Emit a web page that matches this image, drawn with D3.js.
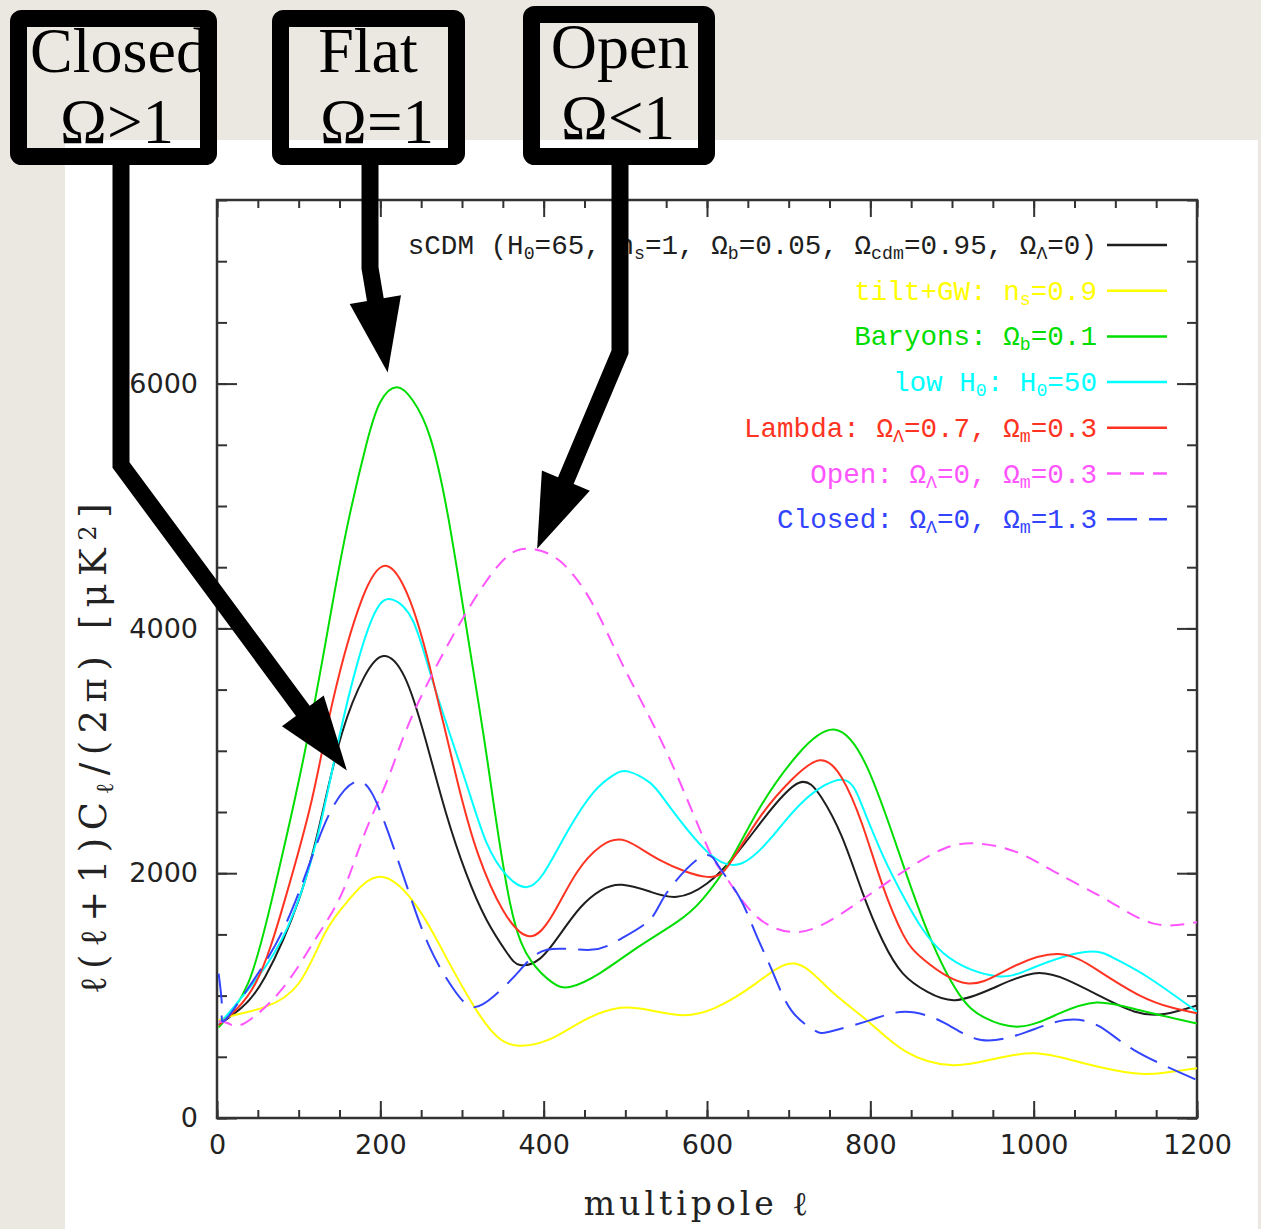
<!DOCTYPE html>
<html>
<head>
<meta charset="utf-8">
<script src="https://cdn.jsdelivr.net/npm/d3@7"></script>
<style>
  body { margin: 0; background: #ebe8e1; }
  svg { display: block; }
</style>
</head>
<body>
<svg id="chart" width="1261" height="1229"></svg>
<script>
// ---- data: [multipole l, l(l+1)Cl/2pi in uK^2] ----
const sCDM = [[2,760],[30,900],[59,1154],[100,1780],[128,2463],[153,3143],[180,3600],[204,3775],[230,3600],[255,3100],[280,2500],[305,2000],[330,1620],[355,1350],[371,1250],[395,1300],[420,1500],[445,1720],[470,1860],[496,1906],[530,1850],[563,1807],[600,1916],[635,2150],[670,2450],[712,2737],[740,2620],[765,2300],[790,1850],[815,1450],[840,1180],[870,1030],[904,963],[950,1060],[1000,1181],[1040,1130],[1080,1000],[1123,870],[1160,850],[1200,920]];
const tiltGW = [[2,800],[22,841],[59,908],[100,1099],[132,1508],[161,1780],[201,1970],[245,1725],[278,1345],[318,877],[347,643],[373,590],[410,650],[450,800],[494,900],[530,880],[570,840],[610,900],[660,1100],[707,1262],[750,1050],[796,797],[843,544],[899,432],[950,480],[1002,528],[1060,450],[1123,365],[1160,370],[1200,406]];
const baryons = [[2,740],[38,1099],[67,1780],[95,2596],[120,3412],[140,4150],[160,4850],[183,5507],[200,5850],[220,5970],[240,5860],[261,5561],[282,4950],[302,4147],[320,3400],[334,2786],[359,1750],[385,1280],[410,1110],[432,1070],[469,1184],[516,1398],[563,1600],[595,1790],[630,2120],[665,2539],[712,2976],[757,3172],[796,2867],[834,2188],[871,1508],[908,1018],[940,820],[983,747],[1030,850],[1077,943],[1130,880],[1200,772]];
const lowH0 = [[2,760],[50,1150],[87,1565],[121,2245],[148,3061],[173,3741],[195,4150],[215,4235],[240,4060],[265,3550],[304,2759],[330,2250],[355,1980],[378,1886],[400,2000],[430,2350],[461,2661],[485,2800],[504,2830],[530,2740],[551,2573],[600,2178],[642,2079],[680,2300],[720,2600],[766,2764],[790,2550],[815,2150],[843,1779],[890,1344],[955,1159],[1000,1230],[1063,1357],[1100,1300],[1140,1150],[1200,869]];
const lambda = [[2,760],[47,1099],[83,1780],[116,2596],[142,3412],[177,4229],[208,4510],[235,4250],[260,3700],[294,2760],[320,2150],[350,1700],[382,1485],[410,1650],[440,2000],[470,2220],[500,2266],[543,2105],[600,1970],[630,2100],[665,2460],[703,2759],[738,2922],[765,2780],[790,2400],[815,1900],[840,1500],[866,1290],[918,1100],[970,1220],[1030,1339],[1080,1200],[1130,1000],[1170,900],[1200,855]];
const open = [[2,790],[15,770],[34,776],[79,1048],[120,1456],[153,1837],[181,2327],[210,2784],[242,3330],[302,4094],[351,4561],[383,4650],[420,4550],[460,4200],[498,3684],[551,2982],[600,2222],[623,1970],[660,1650],[712,1520],[760,1650],[800,1830],[843,2024],[890,2200],[932,2242],[980,2170],[1030,1996],[1090,1780],[1147,1588],[1200,1600]];
const closed = [[2,1180],[6,900],[10,800],[42,1099],[79,1510],[112,2054],[140,2517],[169,2745],[190,2650],[210,2327],[234,1864],[260,1400],[290,1050],[314,906],[340,1000],[370,1200],[404,1374],[457,1374],[494,1462],[530,1620],[551,1842],[593,2134],[615,2050],[640,1800],[660,1500],[680,1200],[703,882],[731,718],[750,705],[800,800],[843,868],[890,780],[936,637],[990,700],[1039,800],[1080,750],[1123,555],[1200,310]];

const seriesData = [sCDM, tiltGW, baryons, lowH0, lambda, open, closed];
const legendLabels = [
  "sCDM (H_{0}=65, n_{s}=1, Ω_{b}=0.05, Ω_{cdm}=0.95, Ω_{Λ}=0)",
  "tilt+GW: n_{s}=0.9",
  "Baryons: Ω_{b}=0.1",
  "low H_{0}: H_{0}=50",
  "Lambda: Ω_{Λ}=0.7, Ω_{m}=0.3",
  "Open: Ω_{Λ}=0, Ω_{m}=0.3",
  "Closed: Ω_{Λ}=0, Ω_{m}=1.3"
];
const xMajorTicks = [0, 200, 400, 600, 800, 1000, 1200];
const yMajorTicks = [0, 2000, 4000, 6000];
const boxTitles = [["Closed", "Ω>1"], ["Flat", "Ω=1"], ["Open", "Ω<1"]];
// where each annotation arrow points, in data units
const arrowTips = [[159, 2840], [209, 6090], [392, 4650]];

// ---- styles ----
const colors = ["#1e1e1e", "#ffff00", "#00dd00", "#00ffff", "#ff3322", "#ff55ff", "#3344ff"];
const dashes = [null, null, null, null, null, "14,9", "30,12"];

var svg = d3.select("#chart");
const W = 1261, H = 1229;
const plot = { left: 217, right: 1197, top: 200, bottom: 1118 };

// background + white panel
svg.append("rect").attr("width", W).attr("height", H).attr("fill", "#ebe8e1");
svg.append("rect").attr("x", 65).attr("y", 140).attr("width", 1193).attr("height", H - 140).attr("fill", "#ffffff");

let x = d3.scaleLinear().domain([0, 1200]).range([plot.left, plot.right]);
let y = d3.scaleLinear().domain([0, 7500]).range([plot.bottom, plot.top]);

// ---- axes (ticks inward on all four sides) ----
function styleAxis(g) {
  g.select(".domain").remove();
  g.selectAll(".tick line").attr("stroke", "#333").attr("stroke-width", 2);
  g.selectAll(".tick text").attr("fill", "#222")
    .style("font-family", "'DejaVu Sans', sans-serif").style("font-size", "27px");
}
const minorX = d3.range(0, 1201, 50), minorY = d3.range(0, 7501, 500);

svg.append("g").attr("transform", `translate(0,${plot.bottom})`)
  .call(d3.axisBottom(x).tickValues(minorX).tickSize(-8).tickFormat("")).call(styleAxis);
svg.append("g").attr("transform", `translate(0,${plot.bottom})`)
  .call(d3.axisBottom(x).tickValues(xMajorTicks).tickSize(-17).tickPadding(17).tickFormat(d3.format("d"))).call(styleAxis);
svg.append("g").attr("transform", `translate(0,${plot.top})`)
  .call(d3.axisTop(x).tickValues(minorX).tickSize(-8).tickFormat("")).call(styleAxis);
svg.append("g").attr("transform", `translate(0,${plot.top})`)
  .call(d3.axisTop(x).tickValues(xMajorTicks).tickSize(-17).tickFormat("")).call(styleAxis);

svg.append("g").attr("transform", `translate(${plot.left},0)`)
  .call(d3.axisLeft(y).tickValues(minorY).tickSize(-10).tickFormat("")).call(styleAxis);
svg.append("g").attr("transform", `translate(${plot.left},0)`)
  .call(d3.axisLeft(y).tickValues(yMajorTicks).tickSize(-20).tickPadding(19).tickFormat(d3.format("d"))).call(styleAxis);
svg.append("g").attr("transform", `translate(${plot.right},0)`)
  .call(d3.axisRight(y).tickValues(minorY).tickSize(-10).tickFormat("")).call(styleAxis);
svg.append("g").attr("transform", `translate(${plot.right},0)`)
  .call(d3.axisRight(y).tickValues(yMajorTicks).tickSize(-20).tickFormat("")).call(styleAxis);

svg.append("rect")
  .attr("x", plot.left).attr("y", plot.top)
  .attr("width", plot.right - plot.left).attr("height", plot.bottom - plot.top)
  .attr("fill", "none").attr("stroke", "#333").attr("stroke-width", 2.5);

// ---- curves ----
svg.append("clipPath").attr("id", "plotClip").append("rect")
  .attr("x", plot.left).attr("y", plot.top)
  .attr("width", plot.right - plot.left).attr("height", plot.bottom - plot.top);

const line = d3.line()
  .x(d => x(d[0]))
  .y(d => y(d[1]))
  .curve(d3.curveNatural);

svg.append("g").attr("clip-path", "url(#plotClip)")
  .selectAll(".spectrum")
  .data(seriesData)
  .join("path")
  .attr("class", "spectrum")
  .attr("d", line)
  .attr("fill", "none")
  .attr("stroke", (d, i) => colors[i])
  .attr("stroke-width", 2)
  .attr("stroke-dasharray", (d, i) => dashes[i]);

// ---- rich text helper: _{sub} and ^{sup} ----
function richText(sel, str) {
  const parts = str.split(/(_\{[^}]*\}|\^\{[^}]*\})/);
  for (let p of parts) {
    if (!p) continue;
    if (p.startsWith("_{")) {
      sel.append("tspan").attr("baseline-shift", "-28%").style("font-size", "66%").text(p.slice(2, -1));
    } else if (p.startsWith("^{")) {
      sel.append("tspan").attr("baseline-shift", "40%").style("font-size", "66%").text(p.slice(2, -1));
    } else {
      sel.append("tspan").text(p);
    }
  }
}

// ---- legend ----
const legendTop = 245, legendStep = 45.7;
let legend = svg.append("g").attr("class", "legend");
legendLabels.forEach(function (label, i) {
  const ly = legendTop + i * legendStep;
  let t = legend.append("text")
    .attr("x", 1097).attr("y", ly + 9)
    .attr("text-anchor", "end")
    .attr("fill", colors[i])
    .style("font-family", "'Liberation Mono', monospace")
    .style("font-size", "27.6px");
  richText(t, label);
  legend.append("line")
    .attr("x1", 1107).attr("x2", 1167).attr("y1", ly).attr("y2", ly)
    .attr("stroke", colors[i]).attr("stroke-width", 2.5)
    .attr("stroke-dasharray", dashes[i]);
});

// ---- axis titles ----
svg.append("text")
  .attr("x", 698).attr("y", 1215)
  .attr("text-anchor", "middle")
  .attr("fill", "#222")
  .style("font-family", "'DejaVu Serif', serif").style("font-size", "33px")
  .style("letter-spacing", "4px")
  .text("multipole ℓ");

let yTitle = svg.append("text")
  .attr("transform", "translate(106,745) rotate(-90)")
  .attr("text-anchor", "middle")
  .attr("fill", "#222")
  .style("font-family", "'DejaVu Serif', serif").style("font-size", "37px")
  .style("letter-spacing", "7.5px");
richText(yTitle, "ℓ(ℓ+1)C_{ℓ}/(2π) [μK^{2}]");

// ---- annotation boxes and arrows ----
const boxes = [
  { x: 10, y: 10, w: 207, h: 155, cx: 119, cx2: 117 },
  { x: 272, y: 10, w: 193, h: 155, cx: 368, cx2: 377 },
  { x: 523, y: 6, w: 192, h: 159, cx: 620, cx2: 618 }
];
const bends = [[[121, 165], [121, 465]], [[370, 165], [370, 268]], [[620, 165], [620, 352]]];
const headLen = 74, headHalf = 26, thick = 17;

let notes = svg.append("g").attr("class", "notes");
boxes.forEach(function (b, i) {
  notes.append("rect")
    .attr("x", b.x + thick / 2).attr("y", b.y + thick / 2)
    .attr("width", b.w - thick).attr("height", b.h - thick)
    .attr("rx", 3)
    .attr("fill", "none").attr("stroke", "#000").attr("stroke-width", thick);
  notes.append("text").attr("x", b.cx).attr("y", b.y + 62)
    .attr("text-anchor", "middle")
    .style("font-family", "'Liberation Serif', 'Times New Roman', serif").style("font-size", "64px")
    .text(boxTitles[i][0]);
  notes.append("text").attr("x", b.cx2).attr("y", b.y + 133)
    .attr("text-anchor", "middle")
    .style("font-family", "'Liberation Serif', 'Times New Roman', serif").style("font-size", "63px")
    .text(boxTitles[i][1]);

  const tip = [x(arrowTips[i][0]), y(arrowTips[i][1])];
  const last = bends[i][bends[i].length - 1];
  const dx = tip[0] - last[0], dy = tip[1] - last[1];
  const len = Math.hypot(dx, dy);
  const ux = dx / len, uy = dy / len;
  const base = [tip[0] - ux * headLen, tip[1] - uy * headLen];
  notes.append("path")
    .attr("d", d3.line()(bends[i].concat([[base[0] + ux * 4, base[1] + uy * 4]])))
    .attr("fill", "none").attr("stroke", "#000").attr("stroke-width", thick)
    .attr("stroke-linejoin", "miter");
  notes.append("path")
    .attr("d", d3.line()([
      [base[0] - uy * headHalf, base[1] + ux * headHalf],
      [base[0] + uy * headHalf, base[1] - ux * headHalf],
      tip
    ]) + "Z")
    .attr("fill", "#000");
});
</script>
</body>
</html>
